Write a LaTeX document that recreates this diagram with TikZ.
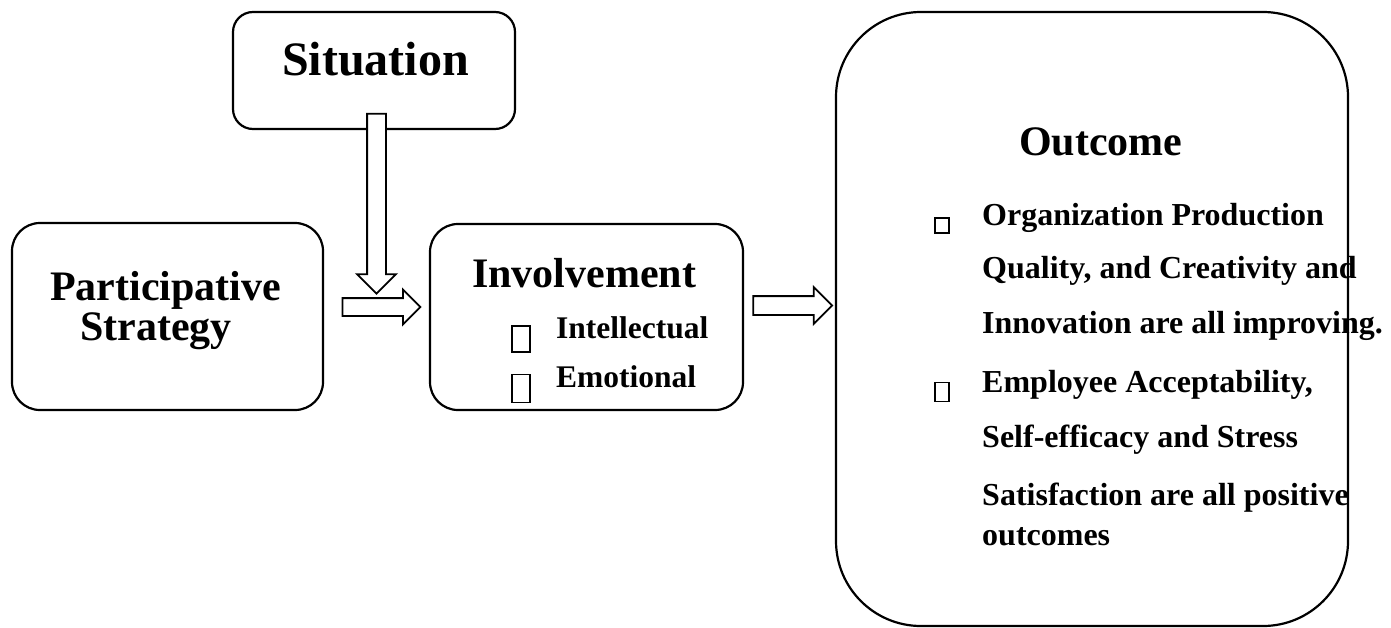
\documentclass[tikz,border=0pt]{standalone}
\usepackage{fontspec}
\setmainfont{Liberation Serif}
\usetikzlibrary{shapes.arrows}
\tikzset{
    box/.style={draw, line width=2.2pt, rounded corners=#1},
    blockarrow/.style={single arrow, draw, fill=white, line width=1.8pt, inner sep=0pt, single arrow tip angle=90},
    bul/.style={draw, line width=1.6pt, inner sep=0pt},
    lbl/.style={anchor=base west, inner sep=0pt, font=\bfseries}
}
\newcommand{\fsz}[1]{\fontsize{#1}{#1}\selectfont}
\begin{document}
\begin{tikzpicture}[x=1pt, y=-1pt]
    \useasboundingbox (0,0) rectangle (1391,627);
    \node[box=20, minimum width=282, minimum height=117] (sit) at (374,70.5) {};
    \node[box=28, minimum width=311, minimum height=187] (part) at (167.5,316.5) {};
    \node[box=28, minimum width=313, minimum height=186] (inv) at (586.5,317) {};
    \node[box=85, minimum width=512, minimum height=614] (out) at (1092,319) {};
    \node[blockarrow, inner xsep=8.5pt, minimum height=180, single arrow head extend=10, shape border rotate=270] (dn) at (376.5,199) {};
    \node[blockarrow, inner ysep=8pt, minimum height=78, single arrow head extend=8.5] (ar1) at (377,307) {};
    \node[blockarrow, inner ysep=8.5pt, minimum height=79, single arrow head extend=9] (ar2) at (788,305.5) {};
    \node[lbl] (sittxt) at (282,75) {\fsz{48}Situation};
    \node[lbl] (parttxt) at (50,300) {\fsz{42}Participative};
    \node[lbl] (strtxt) at (80,340) {\fsz{42}Strategy};
    \node[lbl] (invtxt) at (472,287) {\fsz{42}Involvement};
    \node[lbl] (intel) at (556,338) {\fsz{31.5}Intellectual};
    \node[lbl] (emo) at (556,387) {\fsz{31.5}Emotional};
    \node[bul, minimum width=18, minimum height=26] (b1) at (521,339) {};
    \node[bul, minimum width=18, minimum height=28] (b2) at (521,388.5) {};
    \node[lbl] (outtxt) at (1019,155) {\fsz{42}Outcome};
    \node[bul, minimum width=14, minimum height=15] (b3) at (942,225.5) {};
    \node[bul, minimum width=14, minimum height=19] (b4) at (942,392) {};
    \node[lbl] (o1) at (982,225) {\fsz{32}Organization Production};
    \node[lbl] (o2) at (982,278) {\fsz{32}Quality, and Creativity and};
    \node[lbl] (o3) at (982,333) {\fsz{32}Innovation are all improving.};
    \node[lbl] (o4) at (982,392) {\fsz{32}Employee Acceptability,};
    \node[lbl] (o5) at (982,447) {\fsz{32}Self-efficacy and Stress};
    \node[lbl] (o6) at (982,505) {\fsz{32}Satisfaction are all positive};
    \node[lbl] (o7) at (982,545) {\fsz{32}outcomes};
\end{tikzpicture}
\end{document}
